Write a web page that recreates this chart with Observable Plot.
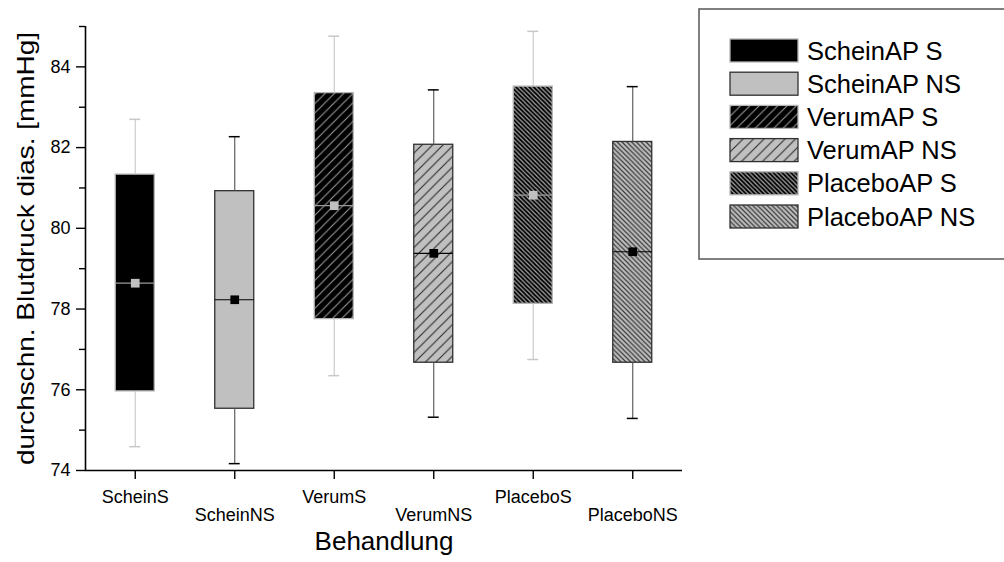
<!DOCTYPE html>
<html>
<head>
<meta charset="utf-8">
<script src="https://cdn.jsdelivr.net/npm/d3@7"></script>
<script src="https://cdn.jsdelivr.net/npm/@observablehq/plot@0.6"></script>
<style>
  html, body { margin: 0; padding: 0; background: #fff; overflow: hidden; }
  #chart { position: relative; width: 1004px; height: 562px; }
</style>
</head>
<body>
<div id="chart"></div>
<script>
// Treatment groups (x categories) and their legend names
const groups = ["ScheinS", "ScheinNS", "VerumS", "VerumNS", "PlaceboS", "PlaceboNS"];
const legendLabels = ["ScheinAP S", "ScheinAP NS", "VerumAP S", "VerumAP NS", "PlaceboAP S", "PlaceboAP NS"];

// Box statistics, diastolic blood pressure [mmHg]
const whiskerLow  = [74.59, 74.17, 76.35, 75.32, 76.75, 75.29];
const q1          = [75.96, 75.53, 77.75, 76.67, 78.13, 76.67];
const median      = [78.64, 78.23, 80.56, 79.38, 80.82, 79.42];
const mean        = [78.64, 78.23, 80.56, 79.38, 80.82, 79.42];
const q3          = [81.33, 80.92, 83.35, 82.07, 83.51, 82.14];
const whiskerHigh = [82.70, 82.27, 84.76, 83.43, 84.88, 83.51];

// Axis ticks
const yTicks = [74, 76, 78, 80, 82, 84];
const yMinorTicks = [75, 77, 79, 81, 83, 85];

const xTitle = "Behandlung";
const yTitle = "durchschn. Blutdruck dias. [mmHg]";

// ---- layout and styling ----
const xDomain = [0.5, groups.length + 0.5];
const yDomain = [74, 85];
const boxHalf = 0.196;
const capHalf = 0.055;
const fontFamily = "'Liberation Sans', Arial, Helvetica, sans-serif";

const fillOf = {
  ScheinS: "#000000",
  ScheinNS: "#c0c0c0",
  VerumS: "url(#hatch-vs)",
  VerumNS: "url(#hatch-vns)",
  PlaceboS: "url(#hatch-ps)",
  PlaceboNS: "url(#hatch-pns)"
};
// "S" groups are drawn dark with light-grey lines, "NS" groups light with dark lines
const isDark = (i) => i % 2 === 0;
const boxStroke = (i) => isDark(i) ? "#b4b4b4" : "#303030";
const whiskerStroke = (i) => isDark(i) ? "#c8c8c8" : "#505050";
const capStroke = (i) => isDark(i) ? "#c8c8c8" : "#000000";
const medianStroke = (i) => isDark(i) ? "#9a9a9a" : "#000000";
const meanFill = (i) => isDark(i) ? "#c0c0c0" : "#000000";

const rows = groups.map((g, i) => ({
  group: g, i, pos: i + 1,
  low: whiskerLow[i], q1: q1[i], median: median[i], mean: mean[i], q3: q3[i], high: whiskerHigh[i]
}));
const positions = rows.map(d => d.pos);

// Hatch patterns shared by the boxes and the legend swatches
const defsSvg = d3.select("body").insert("svg", "#chart")
  .attr("width", 0).attr("height", 0)
  .style("position", "absolute");
const defs = defsSvg.append("defs");
function hatch(id, bg, fg, w, forward, sw) {
  const p = defs.append("pattern")
    .attr("id", id).attr("patternUnits", "userSpaceOnUse")
    .attr("width", w).attr("height", w);
  p.append("rect").attr("width", w).attr("height", w).attr("fill", bg);
  const d = forward
    ? `M0,${w} L${w},0 M${-w / 4},${w / 4} L${w / 4},${-w / 4} M${3 * w / 4},${5 * w / 4} L${5 * w / 4},${3 * w / 4}`
    : `M0,0 L${w},${w} M${-w / 4},${3 * w / 4} L${w / 4},${5 * w / 4} M${3 * w / 4},${-w / 4} L${5 * w / 4},${w / 4}`;
  p.append("path").attr("d", d).attr("stroke", fg).attr("stroke-width", sw).attr("fill", "none");
}
hatch("hatch-vs", "#000000", "#9a9a9a", 9.3, true, 1.1);
hatch("hatch-vns", "#c0c0c0", "#2a2a2a", 10.5, true, 1.1);
hatch("hatch-ps", "#000000", "#a8a8a8", 4.4, false, 1.2);
hatch("hatch-pns", "#c0c0c0", "#383838", 4.8, false, 1.2);

const chart = Plot.plot({
  width: 1004,
  height: 562,
  marginLeft: 85,
  marginRight: 322,
  marginTop: 26,
  marginBottom: 92,
  style: { fontFamily, fontSize: "18px", color: "#000", background: "#fff" },
  x: { type: "linear", domain: xDomain },
  y: { type: "linear", domain: yDomain },
  color: { type: "identity" },
  marks: [
    // boxes (interquartile range)
    Plot.rect(rows, {
      x1: d => d.pos - boxHalf, x2: d => d.pos + boxHalf, y1: "q1", y2: "q3",
      fill: d => fillOf[d.group], stroke: d => boxStroke(d.i), strokeWidth: 1.3
    }),
    // whiskers
    Plot.ruleX(rows, { x: "pos", y1: "q3", y2: "high", stroke: d => whiskerStroke(d.i), strokeWidth: 1.1 }),
    Plot.ruleX(rows, { x: "pos", y1: "q1", y2: "low", stroke: d => whiskerStroke(d.i), strokeWidth: 1.1 }),
    // whisker caps
    Plot.ruleY(rows, { y: "high", x1: d => d.pos - capHalf, x2: d => d.pos + capHalf, stroke: d => capStroke(d.i), strokeWidth: 1.5 }),
    Plot.ruleY(rows, { y: "low", x1: d => d.pos - capHalf, x2: d => d.pos + capHalf, stroke: d => capStroke(d.i), strokeWidth: 1.5 }),
    // median line
    Plot.ruleY(rows, { y: "median", x1: d => d.pos - boxHalf, x2: d => d.pos + boxHalf, stroke: d => medianStroke(d.i), strokeWidth: 1.2 }),
    // mean marker
    Plot.dot(rows, { x: "pos", y: "mean", symbol: "square", r: 4.9, fill: d => meanFill(d.i), stroke: "none" }),
    // axes
    Plot.axisY({ ticks: yTicks, tickSize: 9, tickPadding: 6, fontSize: 18, strokeWidth: 1.4, label: null }),
    Plot.axisY({ ticks: yMinorTicks, tickSize: 6, tickFormat: () => "", strokeWidth: 1.4, label: null }),
    Plot.axisX({ ticks: positions.filter((p, i) => i % 2 === 0), tickFormat: t => groups[t - 1], tickSize: 9, tickPadding: 11, fontSize: 18, strokeWidth: 1.4, label: null }),
    Plot.axisX({ ticks: positions.filter((p, i) => i % 2 === 1), tickFormat: t => groups[t - 1], tickSize: 9, tickPadding: 29, fontSize: 18, strokeWidth: 1.4, label: null }),
    Plot.ruleX([xDomain[0]], { stroke: "#000", strokeWidth: 1.6 }),
    Plot.ruleY([yDomain[0]], { stroke: "#000", strokeWidth: 1.6 }),
    // axis titles
    Plot.text([xTitle], { text: d => d, frameAnchor: "bottom", dy: 79, fontSize: 26 }),
    Plot.text([yTitle], { text: d => d, frameAnchor: "left", rotate: -90, dx: -59, fontSize: 24 })
  ]
});
document.getElementById("chart").appendChild(chart);

const svg = d3.select(chart);
// the rotated axis title is set in a slightly stretched face, laid out from its start
const yTitleLength = 433;
svg.selectAll("text").filter(function () { return this.textContent === yTitle; })
  .attr("text-anchor", "start")
  .attr("x", -yTitleLength / 2)
  .attr("textLength", yTitleLength)
  .attr("lengthAdjust", "spacingAndGlyphs");

// ---- legend box ----
const legend = svg.append("g")
  .attr("font-family", fontFamily)
  .attr("font-size", 25.5)
  .attr("text-anchor", "start");
legend.append("rect")
  .attr("x", 699).attr("y", 9).attr("width", 340).attr("height", 250)
  .attr("fill", "#fff").attr("stroke", "#555").attr("stroke-width", 1.5);
const rowStep = 33.2;
groups.forEach((g, i) => {
  const y0 = 39 + i * rowStep;
  legend.append("rect")
    .attr("x", 730).attr("y", y0).attr("width", 68).attr("height", 23)
    .attr("fill", fillOf[g]).attr("stroke", boxStroke(i)).attr("stroke-width", 1.3);
  legend.append("text")
    .attr("x", 807).attr("y", y0 + 11.5).attr("dy", "0.36em")
    .attr("fill", "#000")
    .text(legendLabels[i]);
});
</script>
</body>
</html>
